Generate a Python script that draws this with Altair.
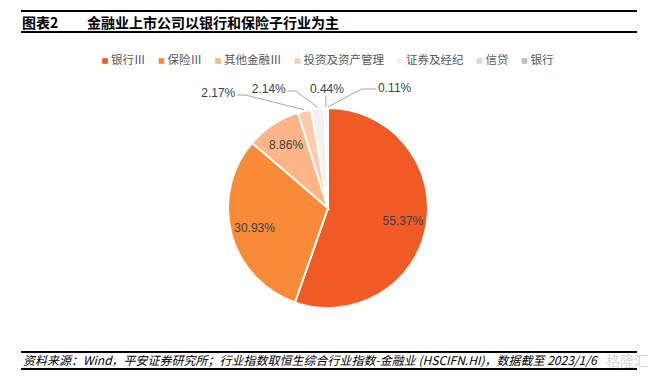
import altair as alt
import numpy as np
import pandas as pd

# ---------------- data ----------------
categories = ["银行Ⅲ", "保险Ⅲ", "其他金融Ⅲ", "投资及资产管理", "证券及经纪", "信贷", "银行"]
shares = [55.37, 30.93, 8.86, 2.17, 2.14, 0.44, 0.11]
colors = ["#F15A24", "#F98B38", "#FDB587", "#FDCBAC", "#F2F2F2", "#D9D9D9", "#BFBFBF"]

title_tag = "图表2"
title_text = "金融业上市公司以银行和保险子行业为主"
source_text = "资料来源：Wind，平安证券研究所；行业指数取恒生综合行业指数-金融业 (HSCIFN.HI)，数据截至 2023/1/6"

# ---------------- layout (image coordinates) ----------------
W, H = 644, 364
OFF = 8
CX, CY, R = 328, 208, 100
INNER_FRAC = 0.76
INNER_MIN = 5.0
ROW_Y = CY - R - 19
# manual nudges of the outside labels (like dragged labels in the source)
OUTER_NUDGE = {"投资及资产管理": (-86, 4), "证券及经纪": (-49, 0), "信贷": (1, 0), "银行": (67, -1)}
LABEL_FS = 12
NUM_FONT = "Liberation Sans"
CJK_FONT = "Noto Sans CJK SC"

LEG_FS = 11.5
LEG_X0 = 111      # first legend label start
LEG_Y = 61
LEG_GAP = 22      # from a label's end to the next label's start
LEG_SYM_DX = 6    # marker centre to the left of its label

total = float(sum(shares))
cum = np.concatenate([[0.0], np.cumsum(shares)])
mids = (cum[:-1] + cum[1:]) / 2.0 / total * 2 * np.pi


def text_width(s, fs):
    w = 0.0
    for ch in s:
        if ch.isdigit():
            w += 0.556
        elif ch == ".":
            w += 0.278
        elif ch == "%":
            w += 0.889
        elif ord(ch) > 0x2000:
            w += 1.0
        else:
            w += 0.6
    return w * fs


pie_df = pd.DataFrame({"cat": categories, "share": shares, "idx": range(len(categories))})

# legend entries laid out from the label widths
leg_rows = []
x = LEG_X0
for i, (cat, col) in enumerate(zip(categories, colors)):
    leg_rows.append({"cat": cat, "col": col, "lx": x, "sx": x - LEG_SYM_DX, "y": LEG_Y})
    x += text_width(cat, LEG_FS) + LEG_GAP
leg_df = pd.DataFrame(leg_rows)

lab_rows = []
line_rows = []
for cat, s, th in zip(categories, shares, mids):
    txt_ = f"{s:.2f}%"
    if s >= INNER_MIN:
        lx = CX + INNER_FRAC * R * np.sin(th)
        ly = CY - INNER_FRAC * R * np.cos(th)
        lab_rows.append({"cat": cat, "lab": txt_, "x": lx, "y": ly})
        continue
    ex = CX + (R + 1) * np.sin(th)
    ey = CY - (R + 1) * np.cos(th)
    dx, dy = OUTER_NUDGE.get(cat, (0, 0))
    lx = ex + dx
    ly = ROW_Y + dy
    lab_rows.append({"cat": cat, "lab": txt_, "x": lx, "y": ly})
    hw = text_width(txt_, LABEL_FS) / 2
    if abs(dx) < 10:
        pts = [(ex, ly + 7), (ex, ey)]
    elif dx < 0:
        ax = lx + hw + 2
        pts = [(ax, ly + 2), (ax + 8, ly + 2), (ex, ey)]
    else:
        ax = lx - hw - 1
        pts = [(ax, ly + 1), (ax - 15, ly + 1), (ex, ey)]
    for k, (px, py) in enumerate(pts):
        line_rows.append({"cat": cat, "k": k, "x": px, "y": py})

lab_df = pd.DataFrame(lab_rows)
line_df = pd.DataFrame(line_rows)

xs = alt.Scale(domain=[OFF, OFF + W], nice=False, zero=False)
ys = alt.Scale(domain=[OFF + H, OFF], nice=False, zero=False)
cscale = alt.Scale(domain=categories, range=colors)

# ---------------- pie ----------------
pie = alt.Chart(pie_df).mark_arc(outerRadius=R, stroke="white", strokeWidth=2).encode(
    theta=alt.Theta("share:Q", stack=True),
    order=alt.Order("idx:Q"),
    color=alt.Color("cat:N", scale=cscale, legend=None),
    x=alt.value(CX - OFF),
    y=alt.value(CY - OFF),
)

lines = alt.Chart(line_df).mark_line(color="#A6A6A6", strokeWidth=1).encode(
    x=alt.X("x:Q", scale=xs, axis=None),
    y=alt.Y("y:Q", scale=ys, axis=None),
    detail="cat:N",
    order="k:Q",
)

labels = alt.Chart(lab_df).mark_text(
    font=NUM_FONT, fontSize=LABEL_FS, color="#404040", align="center", baseline="middle"
).encode(
    x=alt.X("x:Q", scale=xs, axis=None),
    y=alt.Y("y:Q", scale=ys, axis=None),
    text="lab:N",
)

# ---------------- legend ----------------
leg_sym = alt.Chart(leg_df).mark_square(size=32, opacity=1, filled=True).encode(
    x=alt.X("sx:Q", scale=xs, axis=None),
    y=alt.Y("y:Q", scale=ys, axis=None),
    color=alt.Color("cat:N", scale=cscale, legend=None),
)
leg_txt = alt.Chart(leg_df).mark_text(
    font=CJK_FONT, fontSize=LEG_FS, color="#595959", align="left", baseline="middle"
).encode(
    x=alt.X("lx:Q", scale=xs, axis=None),
    y=alt.Y("y:Q", scale=ys, axis=None),
    text="cat:N",
)


def hrule(y, x1=21, x2=637, w=1.5):
    return alt.Chart(pie_df).mark_rule(color="black", strokeWidth=w).encode(
        x=alt.value(x1 - OFF), x2=alt.value(x2 - OFF), y=alt.value(y - OFF)
    )


def txt(s, x, y, **kw):
    return alt.Chart(pd.DataFrame({"t": [s]})).mark_text(align="left", baseline="middle", **kw).encode(
        x=alt.value(x - OFF), y=alt.value(y - OFF), text="t:N"
    )


frame = [hrule(11), hrule(32), hrule(352), hrule(369)]
t1 = txt(title_tag, 22, 24, font=CJK_FONT, fontSize=14, fontWeight="bold", color="black")
t2 = txt(title_text, 87, 24, font=CJK_FONT, fontSize=14, fontWeight="bold", color="black")
src = txt(source_text, 23, 361, font=CJK_FONT, fontSize=12, fontStyle="italic", color="black")
wm = txt("格隆汇", 606, 362, font=CJK_FONT, fontSize=14, color="#CFCFCF", opacity=0.85)

chart = alt.layer(pie, lines, labels, leg_sym, leg_txt, *frame, t1, t2, src, wm).properties(
    width=W, height=H, padding=0, autosize="none"
).configure_view(strokeWidth=0)

chart.save("out.html", embed_options={"renderer": "svg", "actions": False})
